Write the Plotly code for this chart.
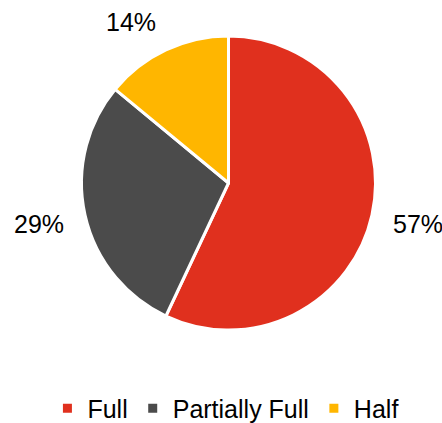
import math
import plotly.graph_objects as go

# Share of containers by fill level
categories = ["Full", "Partially Full", "Half"]
shares = [57, 29, 14]
colors = ["#E0301E", "#4B4B4B", "#FFB600"]

W, H = 442, 423
cx, cy, r = 228.5, 183, 147  # pie centre / radius in pixels
label_r = 166                 # distance of the percentage labels from the centre
FONT = "Liberation Sans, Arial, sans-serif"

fig = go.Figure(
    go.Pie(
        labels=categories,
        values=shares,
        sort=False,
        direction="clockwise",
        rotation=0,
        marker=dict(colors=colors, line=dict(color="white", width=3)),
        textinfo="none",
        domain=dict(
            x=[(cx - r) / W, (cx + r) / W],
            y=[1 - (cy + r) / H, 1 - (cy - r) / H],
        ),
        hoverinfo="label+percent",
    )
)

# Percentage labels placed outside each slice, at its mid-angle
total = sum(shares)
start = 0.0
for value in shares:
    frac = value / total
    mid = (start + frac / 2) * 2 * math.pi  # clockwise from 12 o'clock
    start += frac
    sx, sy = math.sin(mid), math.cos(mid)
    px = cx + label_r * sx
    py = cy - label_r * sy
    xanchor = "left" if sx > 0.2 else ("right" if sx < -0.2 else "center")
    yanchor = "bottom" if sy > 0.5 else ("top" if sy < -0.5 else "middle")
    fig.add_annotation(
        x=px / W,
        y=1 - py / H,
        xref="paper",
        yref="paper",
        text=f"{round(frac * 100)}%",
        showarrow=False,
        xanchor=xanchor,
        yanchor=yanchor,
        yshift=-5,
        font=dict(family=FONT, size=25, color="#000000"),
    )

fig.update_layout(
    width=W,
    height=H,
    margin=dict(l=0, r=0, t=0, b=0, autoexpand=False),
    paper_bgcolor="white",
    plot_bgcolor="white",
    font=dict(family=FONT, color="#000000"),
    showlegend=True,
    legend=dict(
        orientation="h",
        x=0.51,
        xanchor="center",
        y=-0.02,
        yanchor="bottom",
        font=dict(size=25, color="#000000"),
        itemwidth=30,
        traceorder="normal",
    ),
)

fig.write_html("out.html")
